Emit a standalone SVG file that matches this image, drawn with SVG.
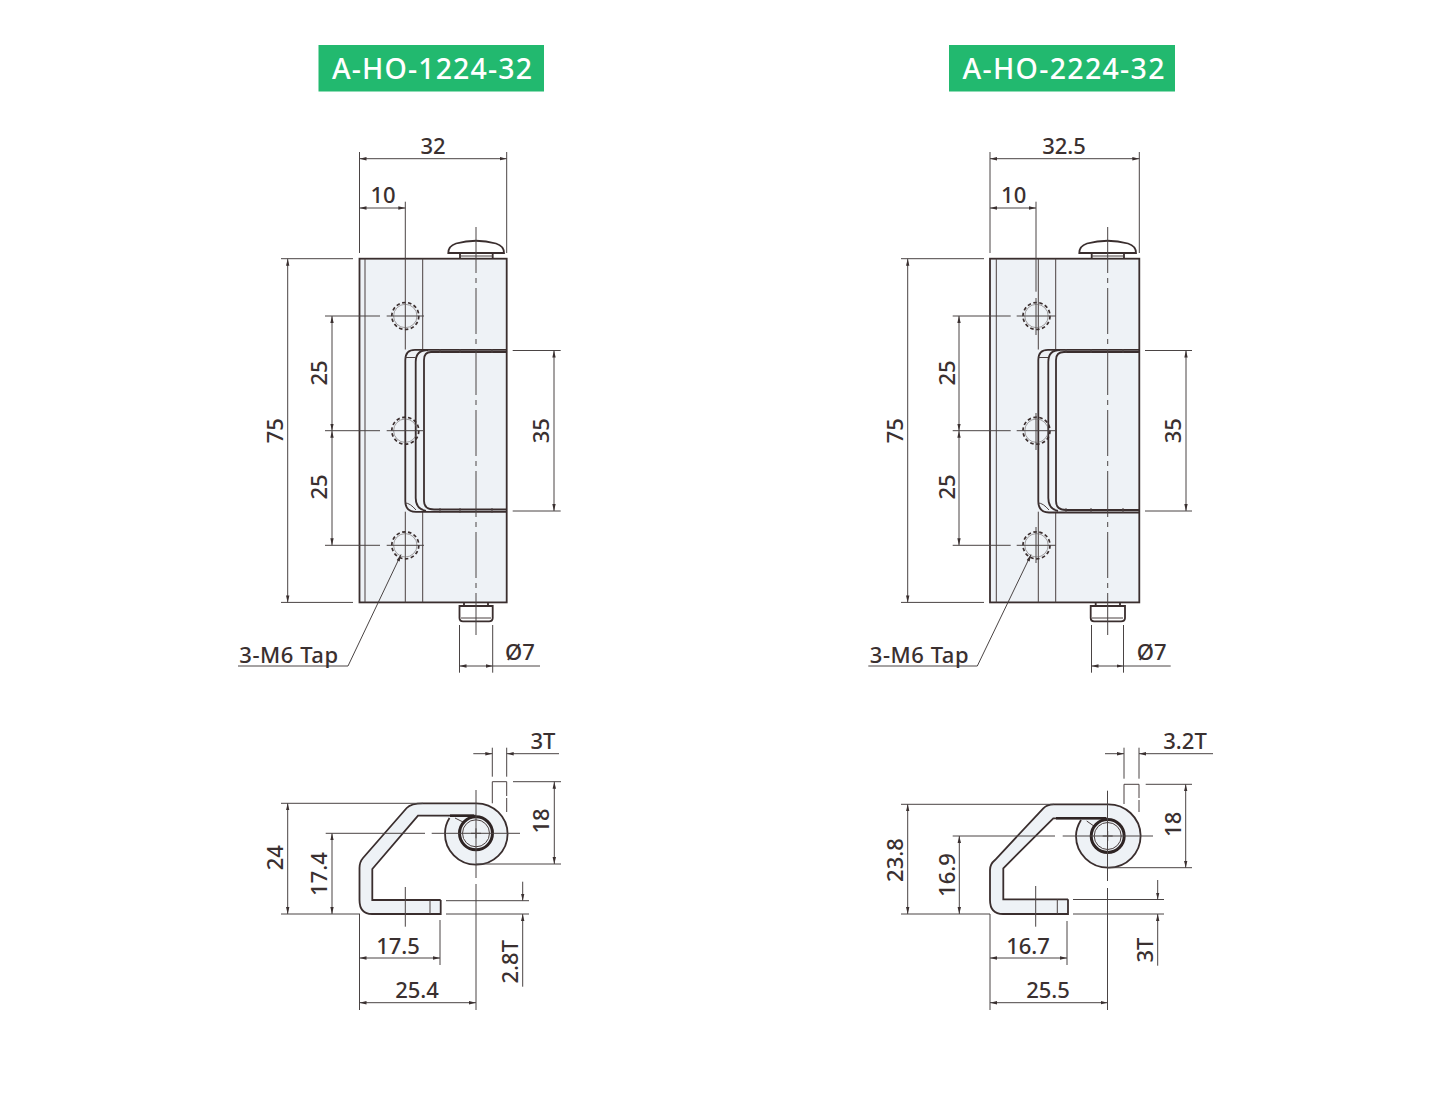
<svg xmlns="http://www.w3.org/2000/svg" width="1450" height="1095" viewBox="0 0 1450 1095">
<style>
text{font-family:"Noto Sans","Open Sans","DejaVu Sans",sans-serif;font-size:22px;font-weight:500;fill:#3a3030;text-anchor:middle}
.tag{fill:#fff;font-size:28.500px;font-weight:500}
.wide{letter-spacing:.55px}
.badge{fill:#22b96f}
.face{fill:#eef2f6;stroke:none}
.o{fill:none;stroke:#3a2e2e;stroke-width:1.8}
.t{fill:none;stroke:#4a4040;stroke-width:1}
.l{fill:none;stroke:#6a6464;stroke-width:.6}
.thick{fill:none;stroke:#2e2424;stroke-width:2.6}
.d{fill:none;stroke:#4a4444;stroke-width:1}
.a{marker-start:url(#a);marker-end:url(#a)}
.e{marker-end:url(#a)}
.c{stroke-dasharray:46 5 5 5}
.h{fill:none;stroke:#3a2e2e;stroke-width:1.7;stroke-dasharray:3.5 2.5}
</style>
<defs>
<marker id="a" markerUnits="userSpaceOnUse" markerWidth="8" markerHeight="5" refX="7" refY="2.5" orient="auto-start-reverse"><path d="M0 .8L7 2.5L0 4.2z" fill="#3a3030"/></marker>
</defs>
<rect width="1450" height="1095" fill="#fff"/>

<g id="label-left"><rect class="badge" x="318.500" y="45" width="225.500" height="46.500"/><text class="tag" x="432" y="78.500" textLength="200" lengthAdjust="spacing">A-HO-1224-32</text></g>
<g id="label-right"><rect class="badge" x="949" y="45" width="226" height="46.500"/><text class="tag" x="1063.500" y="78.500" textLength="202" lengthAdjust="spacing">A-HO-2224-32</text></g>

<g id="front-left">
<rect class="face" x="359.500" y="258.700" width="147.200" height="343.700"/>
<path class="o" d="M448.300 253Q448.300 246 456 243.500Q476 238 496 243.500Q504 246 504 253Z M460 253V258.700M492.700 253V258.700"/>
<path class="t" d="M460 256H492.700"/>
<rect class="o" x="359.500" y="258.700" width="147.200" height="343.700"/>
<path class="t" d="M365 258.700V602.400M405.300 258.700V349.500M405.300 511.700V602.400M422.700 258.700V349.500M422.700 511.700V602.400"/>
<path class="o" d="M506.700 349.800H415Q405.300 349.800 405.300 360V501Q405.300 511.800 416 511.800H506.700"/>
<path class="o" d="M506.700 352H431Q424 352 424 360V501Q424 509.500 434 509.500H506.700M428 350Q415.700 350 415.700 362V498Q415.700 509 426 511"/>
<path class="t" d="M405.300 357.500H415.700M405.300 503Q410 503 416 510M440 349V353M460 349V353M492 349V353M440 508V513M460 508V513M492 508V513"/>
<g id="holes-left">
<circle class="h" cx="405.300" cy="316" r="13.500"/><circle class="l" cx="405.300" cy="316" r="11.700"/>
<circle class="h" cx="405.300" cy="430.700" r="13.500"/><circle class="l" cx="405.300" cy="430.700" r="11.700"/>
<circle class="h" cx="405.300" cy="545.300" r="13.500"/><circle class="l" cx="405.300" cy="545.300" r="11.700"/>
</g>
<path class="o" d="M464 602.400V606H488V602.400M459.500 606H492.700V618Q492.700 621.300 489 621.300H463Q459.500 621.300 459.500 618Z"/>
<path class="t" d="M461 618H491"/>
<path class="d c" d="M476 227V635"/>
<path class="d" d="M386.700 316H424M386.700 430.700H424M386.700 545.300H424"/>
</g>

<g id="section-left">
<path class="face" d="M440.700 914H372Q359.500 914 359.500 900V868Q359.500 862 363 858L406.700 808Q411 803.300 423 803.300H476A31.300 30.700 0 1 1 445 833.300Q445 826 450 818L418 815.700L372.300 869V900H440.700Z"/>
<path class="o" d="M440.700 900V914H372Q359.500 914 359.500 900V868Q359.500 862 363 858L406.700 808Q411 803.300 423 803.300H476A31.300 30.700 0 1 1 445 833.300Q445 825 449.500 818"/>
<path class="o" d="M440.700 900H372.300V869L418 815.700H476"/>
<path class="t" d="M430 900V914M455 818L465 823"/>
<path class="thick" d="M450 815.700H474"/>
<circle cx="476" cy="833.300" r="16.500" fill="#eef2f6" stroke="#2e2424" stroke-width="3"/>
<circle class="t" cx="476" cy="833.300" r="13.500"/>
<path class="t" d="M492.300 803.300V781.700H506.700V796M506.700 798V812" />
<path class="d" d="M471 833.300H481M476 828.300V838.300"/>
</g>

<g id="connectors-left">
<path class="d" d="M359.500 152V253M506.700 152V253M405.300 201.700V258.700M281 258.700H353M281 602.400H353M325 316H380M325 430.700H380M325 545.300H380M512.700 350.500H560.700M512.700 511H560.700M459.500 625V672.700M492.700 625V672.700M492.700 666H540M238 666H348L400 556.700"/>
<path class="d a" d="M359.500 158.700H506.700"/>
<path class="d a" d="M359.500 208H405.300"/>
<path class="d a" d="M287.700 258.700V602.400"/>
<path class="d a" d="M332 316V430.700"/>
<path class="d a" d="M332 430.700V545.300"/>
<path class="d a" d="M554 350.500V511"/>
<path class="d a" d="M459.500 666H492.700"/>
<path class="d e" d="M400 556.700L401 554.500"/>

<path class="d" d="M281 803.300H423M281 914H360M325.700 833.300H425M431.700 833.300H520M513 781.700H561M476 864H561M476 790V878M476 884V1010M405.300 887V926.700M492.300 747.700V776.700M506.700 747.700V776.700M359.500 914V1010M440 920V965M446 900.700H529M446 914H529"/>
<path class="d a" d="M287.700 803.300V914"/>
<path class="d a" d="M332 833.300V914"/>
<path class="d a" d="M554.300 781.700V864"/>
<path class="d a" d="M359.500 958H440"/>
<path class="d a" d="M359.500 1002.700H476"/>
<path class="d e" d="M473.300 753.700H492.300"/>
<path class="d e" d="M559 753.700H506.700"/>
<path class="d e" d="M522.700 881.700V900.700"/>
<path class="d e" d="M522.700 986.700V914"/>
</g>

<g id="texts-left">
<text x="433" y="154">32</text><text x="383" y="203">10</text>
<text transform="translate(327 373) rotate(-90)">25</text>
<text transform="translate(327 487) rotate(-90)">25</text>
<text transform="translate(283 430.700) rotate(-90)">75</text>
<text transform="translate(549 430.700) rotate(-90)">35</text>
<text x="520" y="660">Ø7</text>
<text class="wide" x="289" y="662.500">3-M6 Tap</text>
<text x="543" y="748.500">3T</text>
<text transform="translate(549 821) rotate(-90)">18</text>
<text transform="translate(283 857.700) rotate(-90)">24</text>
<text transform="translate(327 874) rotate(-90)">17.4</text>
<text x="398" y="953.500">17.5</text>
<text x="417" y="997.700">25.4</text>
<text transform="translate(518 961.700) rotate(-90)">2.8T</text>
</g>

<g id="front-right">
<rect class="face" x="990" y="258.700" width="149.300" height="343.700"/>
<path class="o" d="M1079.300 253Q1079.300 246 1087 243.500Q1107.700 238 1128 243.500Q1136 246 1136 253Z M1091.700 253V258.700M1124 253V258.700"/>
<path class="t" d="M1091.700 256H1124"/>
<rect class="o" x="990" y="258.700" width="149.300" height="343.700"/>
<path class="t" d="M996.300 258.700V602.400M1038.300 258.700V349.500M1038.300 511.700V602.400M1055.700 258.700V349.500M1055.700 511.700V602.400"/>
<path class="o" d="M1139.300 349.800H1048Q1038.300 349.800 1038.300 360V501Q1038.300 512.500 1049 512.500H1139.300"/>
<path class="o" d="M1139.300 352H1064Q1056 352 1056 360V501Q1056 510 1066 510H1139.300M1060 350Q1048.300 350 1048.300 362V498Q1048.300 509 1058 511"/>
<path class="t" d="M1038.300 357.500H1048.300M1038.300 503Q1043 503 1049 510M1066 349V353M1091 349V353M1123 349V353M1066 508V513M1091 508V513M1123 508V513"/>
<g id="holes-right">
<circle class="h" cx="1036.500" cy="316" r="13.500"/><circle class="l" cx="1036.500" cy="316" r="11.700"/>
<circle class="h" cx="1036.500" cy="430.700" r="13.500"/><circle class="l" cx="1036.500" cy="430.700" r="11.700"/>
<circle class="h" cx="1036.500" cy="545.300" r="13.500"/><circle class="l" cx="1036.500" cy="545.300" r="11.700"/>
</g>
<path class="o" d="M1095.700 602.400V606H1120V602.400M1090.700 606H1125V618Q1125 621.300 1121 621.300H1094Q1090.700 621.300 1090.700 618Z"/>
<path class="t" d="M1092 618H1123"/>
<path class="d c" d="M1107.700 227V635"/>
<path class="d" d="M1016.700 316H1055.700M1016.700 430.700H1055.700M1016.700 545.300H1055.700M1036 298V335M1036 413V450M1036 527V563"/>
</g>

<g id="section-right">
<path class="face" d="M1068 914H1003Q990 914 990 900V870Q990 864 995 860L1043.300 808.300Q1047 804.300 1054 804.300H1107.300A32.300 31.700 0 1 1 1076 836Q1076 828 1081 820L1053.300 818.300L1003.300 868.300V899.300H1068Z"/>
<path class="o" d="M1068 899.300V914H1003Q990 914 990 900V870Q990 864 995 860L1043.300 808.300Q1047 804.300 1054 804.300H1107.300A32.300 31.700 0 1 1 1076 836Q1076 828 1081 820"/>
<path class="o" d="M1068 899.300H1003.300V868.300L1053.300 818.300H1107"/>
<path class="t" d="M1057.300 899.300V914M1086.700 821L1096.700 828"/>
<path class="thick" d="M1056 818.300H1106"/>
<circle cx="1107.700" cy="836" r="16.500" fill="#eef2f6" stroke="#2e2424" stroke-width="3"/>
<circle class="t" cx="1107.700" cy="836" r="13.500"/>
<path class="t" d="M1124 804V784.300H1139V798M1139 800V812"/>
<path class="d" d="M1102.700 836H1112.700M1107.700 831V841"/>
</g>

<g id="connectors-right">
<path class="d" d="M990 152V253M1139.300 152V253M1036 201.700V291.700M901 258.700H984M901 602.400H984M952.700 316H1010.700M952.700 430.700H1010.700M952.700 545.300H1010.700M1145 350.500H1192M1145 511H1192M1091.500 625V672.700M1123.500 625V672.700M1123.500 666H1170.700M868.300 666H977.300L1030 556.700"/>
<path class="d a" d="M990 158.700H1139.300"/>
<path class="d a" d="M990 208H1036"/>
<path class="d a" d="M907.700 258.700V602.400"/>
<path class="d a" d="M959 316V430.700"/>
<path class="d a" d="M959 430.700V545.300"/>
<path class="d a" d="M1186 350.500V511"/>
<path class="d a" d="M1091.500 666H1123.500"/>
<path class="d e" d="M1030 556.700L1031 554.500"/>

<path class="d" d="M901 804.300H1054M901 914H990M952.700 836H1055M1062.700 836H1153M1145.700 784.300H1192M1107 867.700H1192M1107.500 790.700V881M1107.500 888V1010M1035.700 886V926.700M1124 747.700V778.700M1139 747.700V778.700M990 914V1010M1067 921V965M1073 899.500H1164M1073 914H1164"/>
<path class="d a" d="M907.700 804.300V914"/>
<path class="d a" d="M959.300 836V914"/>
<path class="d a" d="M1185.700 784.300V867.700"/>
<path class="d a" d="M990 958H1067"/>
<path class="d a" d="M990 1002.700H1107.500"/>
<path class="d e" d="M1105 753.700H1124"/>
<path class="d e" d="M1213 753.700H1139"/>
<path class="d e" d="M1157.700 880V899.500"/>
<path class="d e" d="M1157.700 965.700V914"/>
</g>

<g id="texts-right">
<text x="1064" y="154">32.5</text><text x="1013.700" y="203">10</text>
<text transform="translate(954.700 373) rotate(-90)">25</text>
<text transform="translate(954.700 487) rotate(-90)">25</text>
<text transform="translate(903 430.700) rotate(-90)">75</text>
<text transform="translate(1181.300 430.700) rotate(-90)">35</text>
<text x="1151.700" y="660">Ø7</text>
<text class="wide" x="919.500" y="662.500">3-M6 Tap</text>
<text x="1185" y="748.500">3.2T</text>
<text transform="translate(1181.300 824.300) rotate(-90)">18</text>
<text transform="translate(903 860) rotate(-90)">23.8</text>
<text transform="translate(954.700 875) rotate(-90)">16.9</text>
<text x="1028" y="953.500">16.7</text>
<text x="1048" y="997.700">25.5</text>
<text transform="translate(1153 950) rotate(-90)">3T</text>
</g>
</svg>
